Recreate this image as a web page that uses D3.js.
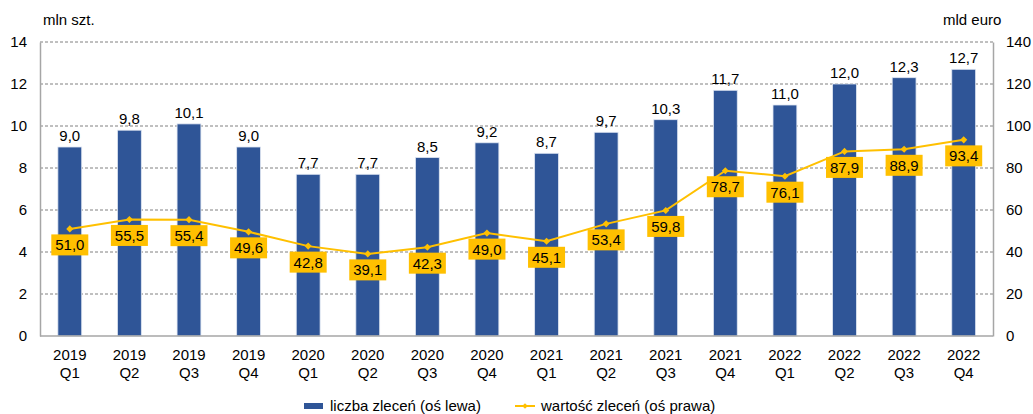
<!DOCTYPE html>
<html>
<head>
<meta charset="utf-8">
<script src="https://cdn.jsdelivr.net/npm/d3@7"></script>
<style>
  body { margin: 0; background: #fff; }
  text { font-family: "Liberation Sans", Arial, sans-serif; fill: #000; }
</style>
</head>
<body>
<div id="chart"></div>
<script>
// dane
const lata = ['2019','2019','2019','2019','2020','2020','2020','2020','2021','2021','2021','2021','2022','2022','2022','2022'];
const kwartaly = ['Q1','Q2','Q3','Q4','Q1','Q2','Q3','Q4','Q1','Q2','Q3','Q4','Q1','Q2','Q3','Q4'];
const liczba = [9.0, 9.8, 10.1, 9.0, 7.7, 7.7, 8.5, 9.2, 8.7, 9.7, 10.3, 11.7, 11.0, 12.0, 12.3, 12.7];
const wartosc = [51.0, 55.5, 55.4, 49.6, 42.8, 39.1, 42.3, 49.0, 45.1, 53.4, 59.8, 78.7, 76.1, 87.9, 88.9, 93.4];
const ticksLewa = [0, 2, 4, 6, 8, 10, 12, 14];
const ticksPrawa = [0, 20, 40, 60, 80, 100, 120, 140];

function wykres() {
    const width = 1033, height = 414;
    const m = { left: 40, right: 40, top: 42, bottom: 78 };
    const fmt = v => v.toFixed(1).replace('.', ',');
    const niebieski = '#2F5597', zolty = '#FFC000';

    const svg = d3.select('#chart').append('svg')
        .attr('width', width).attr('height', height);

    const idx = d3.range(liczba.length);
    const x = d3.scaleBand()
        .domain(idx)
        .range([m.left, width - m.right + 0.5])
        .paddingInner(0.6).paddingOuter(0.3);

    const yL = d3.scaleLinear().domain([0, 14]).range([height - m.bottom, m.top]);
    const yR = d3.scaleLinear().domain([0, 140]).range([height - m.bottom, m.top]);

    // siatka
    svg.append('g').selectAll('line')
        .data(ticksLewa.filter(d => d > 0))
        .join('line')
        .attr('x1', m.left).attr('x2', width - m.right)
        .attr('y1', d => yL(d)).attr('y2', d => yL(d))
        .attr('stroke', '#808080').attr('stroke-width', 1)
        .attr('stroke-dasharray', '3,2');

    // osie
    const axisL = svg.append('g')
        .attr('transform', `translate(${m.left},0)`)
        .call(d3.axisLeft(yL).tickValues(ticksLewa).tickSize(0).tickPadding(13));
    const axisR = svg.append('g')
        .attr('transform', `translate(${width - m.right},0)`)
        .call(d3.axisRight(yR).tickValues(ticksPrawa).tickSize(0).tickPadding(13));
    [axisL, axisR].forEach(a => {
        a.select('.domain').attr('stroke', '#a6a6a6').attr('stroke-width', 1.5);
        a.selectAll('text').attr('font-size', 15).attr('font-family', '"Liberation Sans", Arial, sans-serif').attr('fill', '#000');
    });

    // kategorie
    const xl = svg.append('g').selectAll('text')
        .data(idx).join('text')
        .attr('x', i => x(i) + x.bandwidth() / 2)
        .attr('text-anchor', 'middle')
        .attr('font-size', 15);
    xl.append('tspan').attr('x', i => x(i) + x.bandwidth() / 2).attr('y', 360).text(i => lata[i]);
    xl.append('tspan').attr('x', i => x(i) + x.bandwidth() / 2).attr('y', 378).text(i => kwartaly[i]);

    // slupki
    svg.append('g').selectAll('rect')
        .data(idx).join('rect')
        .attr('x', i => x(i))
        .attr('width', x.bandwidth())
        .attr('y', i => yL(liczba[i]))
        .attr('height', i => yL(0) - yL(liczba[i]))
        .attr('fill', niebieski)
        .attr('stroke', '#dfe6f2').attr('stroke-width', 0.8);

    svg.append('g').selectAll('text')
        .data(idx).join('text')
        .attr('x', i => x(i) + x.bandwidth() / 2)
        .attr('y', i => yL(liczba[i]) - 6)
        .attr('text-anchor', 'middle')
        .attr('font-size', 15)
        .text(i => fmt(liczba[i]));

    // os dolna
    svg.append('line')
        .attr('x1', m.left).attr('x2', width - m.right)
        .attr('y1', yL(0)).attr('y2', yL(0))
        .attr('stroke', '#a6a6a6').attr('stroke-width', 1.5);

    // linia
    const line = d3.line()
        .x(i => x(i) + x.bandwidth() / 2)
        .y(i => yR(wartosc[i]));
    svg.append('path')
        .datum(idx)
        .attr('fill', 'none')
        .attr('stroke', zolty).attr('stroke-width', 2)
        .attr('d', line);

    svg.append('g').selectAll('path')
        .data(idx).join('path')
        .attr('transform', i => `translate(${x(i) + x.bandwidth() / 2},${yR(wartosc[i])}) rotate(45)`)
        .attr('d', 'M-2.5,-2.5H2.5V2.5H-2.5Z')
        .attr('fill', zolty);

    // etykiety linii
    const lab = svg.append('g').selectAll('g')
        .data(idx).join('g')
        .attr('transform', i => `translate(${x(i) + x.bandwidth() / 2},${yR(wartosc[i]) + 16})`);
    lab.append('rect')
        .attr('x', -18.5).attr('y', -10.5)
        .attr('width', 37).attr('height', 21)
        .attr('fill', zolty);
    lab.append('text')
        .attr('text-anchor', 'middle')
        .attr('y', 5.5)
        .attr('font-size', 15)
        .text(i => fmt(wartosc[i]));

    // tytuly osi
    svg.append('text').attr('x', 43).attr('y', 25).attr('font-size', 15).text('mln szt.');
    svg.append('text').attr('x', 943).attr('y', 25).attr('font-size', 15).text('mld euro');

    // legenda
    const leg = svg.append('g').attr('transform', 'translate(0,406)');
    leg.append('rect').attr('x', 304).attr('y', -3).attr('width', 19).attr('height', 6).attr('fill', niebieski);
    leg.append('text').attr('x', 330).attr('y', 5).attr('font-size', 15).text('liczba zleceń (oś lewa)');
    leg.append('line').attr('x1', 515).attr('x2', 535).attr('y1', 0).attr('y2', 0)
        .attr('stroke', zolty).attr('stroke-width', 2);
    leg.append('path').attr('transform', 'translate(525,0) rotate(45)').attr('d', 'M-2,-2H2V2H-2Z').attr('fill', zolty);
    leg.append('text').attr('x', 541).attr('y', 5).attr('font-size', 15).text('wartość zleceń (oś prawa)');
}

wykres();
</script>
</body>
</html>
